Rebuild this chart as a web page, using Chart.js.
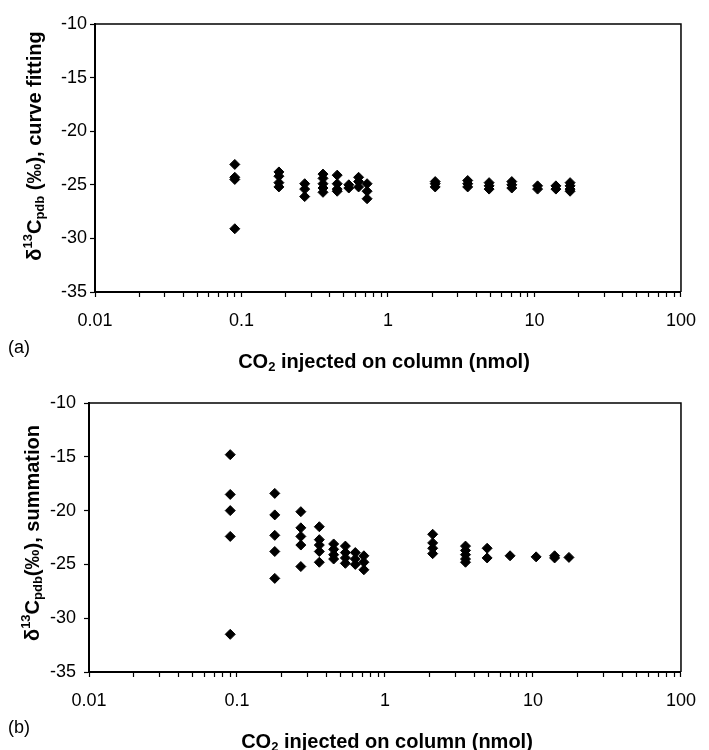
<!DOCTYPE html>
<html>
<head>
<meta charset="utf-8">
<script src="https://cdn.jsdelivr.net/npm/chart.js@4.4.0/dist/chart.umd.min.js"></script>
<style>
    html, body { margin: 0; padding: 0; background: #fff; }
    #wrap { position: relative; width: 709px; height: 750px; }
    canvas { position: absolute; left: 0; }
    #chartA { top: 0; }
    #chartB { top: 380px; }
</style>
</head>
<body>
<div id="wrap">
    <canvas id="chartA" width="709" height="380"></canvas>
    <canvas id="chartB" width="709" height="370"></canvas>
</div>
<script>
const FONT = '"Liberation Sans", Arial, Helvetica, sans-serif';

// CO2 injected on column (nmol), one entry per group of replicate runs
const co2Amounts = [0.09, 0.18, 0.27, 0.36, 0.45, 0.54, 0.63, 0.72, 2.1, 3.5, 4.9, 7, 10.5, 14, 17.5];

// d13C pdb (permil), curve fitting
const curveFitting = [
    [-23.1, -24.3, -24.5, -29.1],
    [-23.8, -24.2, -24.8, -25.2],
    [-24.9, -25.4, -26.1],
    [-24.0, -24.4, -24.9, -25.3, -25.7],
    [-24.1, -24.9, -25.4, -25.6],
    [-25.0, -25.3],
    [-24.3, -24.7, -25.2],
    [-24.9, -25.6, -26.3],
    [-24.7, -24.9, -25.2],
    [-24.6, -24.9, -25.2],
    [-24.8, -25.1, -25.4],
    [-24.7, -25.0, -25.3],
    [-25.1, -25.4],
    [-25.1, -25.4],
    [-24.8, -25.1, -25.4, -25.6],
];

// d13C pdb (permil), summation
const summation = [
    [-14.8, -18.5, -20.0, -22.4, -31.5],
    [-18.4, -20.4, -22.3, -23.8, -26.3],
    [-20.1, -21.6, -22.4, -23.2, -25.2],
    [-21.5, -22.7, -23.2, -23.8, -24.8],
    [-23.1, -23.6, -24.1, -24.5],
    [-23.3, -23.9, -24.4, -24.9],
    [-23.9, -24.5, -25.0],
    [-24.2, -24.8, -25.5],
    [-22.2, -23.0, -23.5, -24.0],
    [-23.3, -23.7, -24.1, -24.5, -24.8],
    [-23.5, -24.4],
    [-24.2],
    [-24.3],
    [-24.2, -24.4],
    [-24.35],
];

const xDecades = [0.01, 0.1, 1, 10, 100];
const xTickLabels = ['0.01', '0.1', '1', '10', '100'];
const minorSteps = [1, 2, 3, 4, 5, 6, 7, 8, 9];
const yMin = -35;
const yMax = -10;
const yStep = 5;

function toPoints(amounts, groups) {
    const pts = [];
    groups.forEach((vals, i) => {
        vals.forEach(v => pts.push({x: amounts[i], y: v}));
    });
    return pts;
}

// draws a line of text made of runs with different sizes / offsets (sub & superscripts)
function drawRuns(ctx, item) {
    ctx.save();
    ctx.translate(item.x, item.y);
    if (item.rotate) ctx.rotate(item.rotate);
    ctx.fillStyle = '#000';
    ctx.textBaseline = 'middle';
    ctx.textAlign = 'left';
    const weight = item.bold ? 'bold ' : '';
    let total = 0;
    item.runs.forEach(r => {
        ctx.font = weight + r.size + 'px ' + FONT;
        r.w = ctx.measureText(r.text).width;
        total += r.w;
    });
    let pos = item.align === 'left' ? 0 : -total / 2;
    item.runs.forEach(r => {
        ctx.font = weight + r.size + 'px ' + FONT;
        ctx.fillText(r.text, pos, r.dy || 0);
        pos += r.w;
    });
    ctx.restore();
}

function paperPlugin(texts) {
    return {
        id: 'paper',
        afterDraw(chart) {
            const ctx = chart.ctx;
            const a = chart.chartArea;
            // thin frame on top and right like the original plot box
            ctx.save();
            ctx.strokeStyle = '#000';
            ctx.lineWidth = 1.5;
            ctx.beginPath();
            ctx.moveTo(a.left, a.top);
            ctx.lineTo(a.right, a.top);
            ctx.lineTo(a.right, a.bottom);
            ctx.stroke();
            ctx.restore();
            texts.forEach(t => drawRuns(ctx, t));
        }
    };
}

function makeChart(canvasId, groups, layout, texts) {
    const ctx = document.getElementById(canvasId).getContext('2d');
    return new Chart(ctx, {
        type: 'scatter',
        data: {
            datasets: [{
                data: toPoints(co2Amounts, groups),
                pointStyle: 'rectRot',
                pointRadius: 5,
                pointBorderWidth: 1,
                backgroundColor: '#000',
                borderColor: '#000',
            }],
        },
        options: {
            responsive: false,
            devicePixelRatio: 1,
            animation: false,
            events: [],
            layout: {
                padding: {top: layout.top, right: layout.right, left: 0, bottom: 0},
            },
            plugins: {
                legend: {display: false},
                tooltip: {enabled: false},
            },
            scales: {
                x: {
                    type: 'logarithmic',
                    min: xDecades[0],
                    max: xDecades[xDecades.length - 1],
                    afterBuildTicks: (scale) => {
                        const ticks = [];
                        xDecades.slice(0, -1).forEach(d => {
                            minorSteps.forEach(k => ticks.push({value: d * k}));
                        });
                        ticks.push({value: xDecades[xDecades.length - 1]});
                        scale.ticks = ticks;
                    },
                    afterFit: (scale) => { scale.height = layout.xHeight; },
                    grid: {
                        drawOnChartArea: false,
                        drawTicks: true,
                        tickLength: 5,
                        tickColor: '#000',
                        tickWidth: 1.2,
                    },
                    border: {display: true, color: '#000', width: 2},
                    ticks: {
                        autoSkip: false,
                        maxRotation: 0,
                        minRotation: 0,
                        padding: 13,
                        color: '#000',
                        font: {family: FONT, size: 18},
                        callback: (v) => {
                            const i = xDecades.findIndex(d => Math.abs(d - v) < d * 1e-6);
                            return i >= 0 ? xTickLabels[i] : '';
                        },
                    },
                },
                y: {
                    min: yMin,
                    max: yMax,
                    afterFit: (scale) => { scale.width = layout.yWidth; },
                    grid: {
                        drawOnChartArea: false,
                        drawTicks: true,
                        tickLength: 5,
                        tickColor: '#000',
                        tickWidth: 1.2,
                    },
                    border: {display: true, color: '#000', width: 2},
                    ticks: {
                        stepSize: yStep,
                        padding: layout.yPad,
                        color: '#000',
                        font: {family: FONT, size: 18},
                        callback: (v) => String(v),
                    },
                },
            },
        },
        plugins: [paperPlugin(texts)],
    });
}

const xTitleRuns = [
    {text: 'CO', size: 20},
    {text: '2', size: 13, dy: 5},
    {text: ' injected on column (nmol)', size: 20},
];

makeChart('chartA', curveFitting,
    {top: 24, right: 20, xHeight: 88, yWidth: 95, yPad: 3},
    [
        {x: 384, y: 362, bold: true, runs: xTitleRuns},
        {x: 8, y: 348, align: 'left', runs: [{text: '(a)', size: 18}]},
        {x: 35, y: 146, bold: true, rotate: -Math.PI / 2, runs: [
            {text: 'δ', size: 20},
            {text: '13', size: 13, dy: -7},
            {text: 'C', size: 20},
            {text: 'pdb', size: 13, dy: 5},
            {text: ' (‰), curve fitting', size: 20},
        ]},
    ]);

makeChart('chartB', summation,
    {top: 23, right: 27, xHeight: 78, yWidth: 89, yPad: 8},
    [
        {x: 387, y: 362, bold: true, runs: xTitleRuns},
        {x: 8, y: 348, align: 'left', runs: [{text: '(b)', size: 18}]},
        {x: 33, y: 153, bold: true, rotate: -Math.PI / 2, runs: [
            {text: 'δ', size: 20},
            {text: '13', size: 13, dy: -7},
            {text: 'C', size: 20},
            {text: 'pdb', size: 13, dy: 5},
            {text: '(‰), summation', size: 20},
        ]},
    ]);
</script>
</body>
</html>
